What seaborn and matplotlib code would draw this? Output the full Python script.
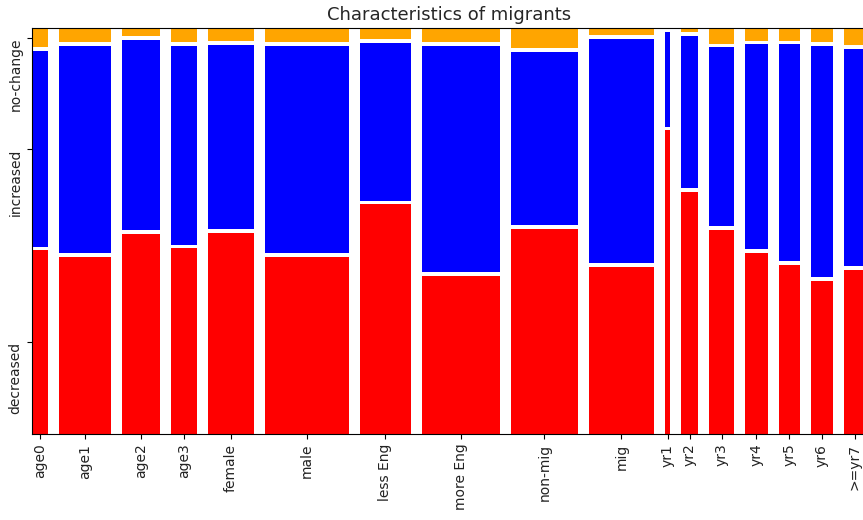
import numpy as np
import matplotlib
matplotlib.use("Agg")
import matplotlib.pyplot as plt
import seaborn as sns

# groupes (axe x) et taille relative de chaque groupe (largeur des colonnes)
groups = ["age0", "age1", "age2", "age3", "female", "male", "less Eng", "more Eng",
          "non-mig", "mig", "yr1", "yr2", "yr3", "yr4", "yr5", "yr6", ">=yr7"]
group_size = [16, 52, 37, 26, 46, 83, 51, 78, 66, 65, 5, 17, 25, 22, 21, 22, 22]

# proportions (%) de chaque issue par groupe
outcomes = ["decreased", "increased", "no-change"]
decreased = [46.1, 44.4, 50.3, 46.6, 50.4, 44.4, 57.6, 39.6, 51.5, 42.0, 76.2, 60.7, 51.1, 45.4, 42.5, 38.5, 41.3]
increased = [49.1, 52.1, 47.7, 49.8, 46.3, 52.1, 39.6, 56.8, 43.4, 56.3, 23.8, 38.3, 44.9, 51.4, 54.3, 57.9, 54.5]
no_change = [4.8, 3.6, 2.0, 3.6, 3.2, 3.5, 2.8, 3.6, 5.1, 1.7, 0.0, 1.0, 3.9, 3.2, 3.2, 3.6, 4.3]
colors = ["#ff0000", "#0000ff", "#ffa500"]

sns.set_style("ticks")

fig = plt.figure(figsize=(8.63, 5.2), dpi=100)
ax = fig.add_axes([32 / 863, 86 / 520, 834 / 863, 406 / 520])

xgap = 11
ygap = 0.0092
parts = np.array([decreased, increased, no_change]) / 100.0

x = 0
centers = []
for i, g in enumerate(groups):
    w = group_size[i]
    usable = 1 - ygap * (len(outcomes) - 1)
    bottom = 0
    for k in range(len(outcomes)):
        h = parts[k, i] / parts[:, i].sum() * usable
        ax.bar(x, h, width=w, bottom=bottom, align="edge", color=colors[k], linewidth=0)
        bottom += h + ygap
    centers.append(x + w / 2)
    x += w + xgap

ax.set_xlim(0, x - xgap)
ax.set_ylim(0, 1)
ax.set_xticks(centers)
ax.set_xticklabels(groups, rotation=90)

# étiquettes y au centre des segments de la première colonne
first = parts[:, 0] / parts[:, 0].sum() * (1 - 2 * ygap)
yt = []
b = 0
for h in first:
    yt.append(b + h / 2)
    b += h + ygap
ax.set_yticks(yt)
ax.set_yticklabels(outcomes, rotation=90, va="top")

ax.set_title("Characteristics of migrants", fontsize=13)
for s in ax.spines.values():
    s.set_color("black")
ax.tick_params(colors="black", labelcolor="#222222")

fig.savefig("out.png", dpi=100)
